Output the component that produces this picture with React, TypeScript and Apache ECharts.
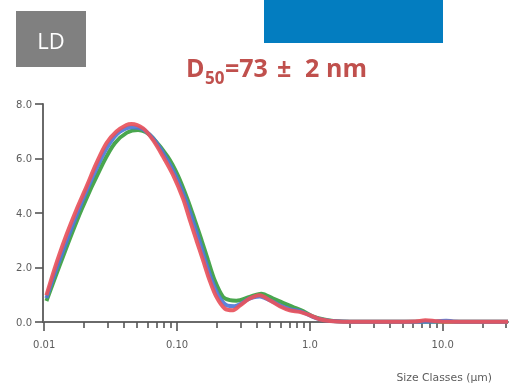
import React, { useEffect, useRef } from "react";
import * as echarts from "echarts";

// Size classes (µm) and volume density (%)
const redData: [number, number][] = [
  [0.0104, 0.98], [0.01235, 2.15], [0.0147, 3.19], [0.01747, 4.11], [0.0208, 4.96],
  [0.0247, 5.82], [0.0294, 6.56], [0.035, 6.99], [0.0416, 7.23], [0.0454, 7.27],
  [0.0555, 7.11], [0.0659, 6.68], [0.0785, 6.07], [0.0933, 5.4], [0.111, 4.53],
  [0.125, 3.74], [0.14, 3.0], [0.157, 2.27], [0.176, 1.53], [0.198, 0.92],
  [0.229, 0.49], [0.264, 0.43], [0.297, 0.6], [0.352, 0.86], [0.419, 0.98],
  [0.498, 0.8], [0.593, 0.58], [0.705, 0.43], [0.838, 0.37], [0.996, 0.25],
  [1.186, 0.1], [1.41, 0.04], [1.8, 0.01], [4, 0.01], [6.2, 0.02],
  [7.4, 0.06], [8.6, 0.04], [10, 0.01], [20, 0.01], [31, 0.01],
];
const blueData: [number, number][] = [
  [0.0104, 0.88], [0.0128, 2.15], [0.0182, 4.11], [0.0258, 5.82], [0.0312, 6.56],
  [0.037, 6.98], [0.0465, 7.15], [0.055, 7.08], [0.0665, 6.72], [0.081, 6.1],
  [0.097, 5.4], [0.116, 4.5], [0.131, 3.74], [0.147, 3.0], [0.163, 2.27],
  [0.183, 1.53], [0.208, 0.92], [0.24, 0.6], [0.27, 0.58], [0.3, 0.66],
  [0.35, 0.86], [0.42, 0.94], [0.5, 0.8], [0.6, 0.6], [0.72, 0.46],
  [0.85, 0.39], [1.0, 0.24], [1.2, 0.1], [1.45, 0.04], [2, 0.01], [5, 0.01],
  [9, 0.02], [10.6, 0.05], [12, 0.02], [15, 0.01], [31, 0.01],
];
const greenData: [number, number][] = [
  [0.0104, 0.77], [0.01324, 2.15], [0.01905, 4.11], [0.0277, 5.82], [0.034, 6.56],
  [0.042, 6.95], [0.0509, 7.05], [0.058, 6.97], [0.066, 6.75], [0.085, 6.07],
  [0.101, 5.4], [0.12, 4.5], [0.136, 3.74], [0.153, 3.0], [0.171, 2.27],
  [0.192, 1.53], [0.222, 0.92], [0.25, 0.8], [0.28, 0.78], [0.352, 0.92],
  [0.43, 1.04], [0.529, 0.86], [0.627, 0.7], [0.748, 0.55], [0.888, 0.4],
  [1.05, 0.21], [1.25, 0.1], [1.5, 0.04], [2, 0.01], [5, 0.01], [31, 0.01],
];

const majorTicks = [0.01, 0.1, 1, 10];
const majorLabels = ["0.01", "0.10", "1.0", "10.0"];
const minorTicks = [
  0.02, 0.03, 0.04, 0.05, 0.06, 0.07, 0.08, 0.09,
  0.2, 0.3, 0.4, 0.5, 0.6, 0.7, 0.8, 0.9,
  2, 3, 4, 5, 6, 7, 8, 9,
  20, 30,
];
const yTicks = ["0.0", "2.0", "4.0", "6.0", "8.0"];

const xMin = 0.0098;
const xMax = 31;
const axisColor = "#6a6a6a";
const labelColor = "#5c5c5c";

export default function App() {
  const ref = useRef<HTMLDivElement>(null);
  useEffect(() => {
    if (!ref.current) return;
    const chart = echarts.init(ref.current, undefined, { renderer: "svg" });
    const mkSeries = (name: string, data: [number, number][], color: string) => ({
      name,
      type: "line",
      xAxisIndex: 0,
      data,
      smooth: 0.3,
      symbol: "none",
      lineStyle: { color, width: 4, opacity: 0.92 },
    });
    chart.setOption({
      animation: false,
      grid: { left: 43, right: 4, top: 104, bottom: 67, containLabel: false },
      xAxis: [
        {
          type: "log",
          min: xMin,
          max: xMax,
          position: "bottom",
          axisLine: { show: true, lineStyle: { color: axisColor, width: 2 } },
          axisTick: {
            show: true,
            customValues: majorTicks,
            length: 9,
            lineStyle: { color: "#555", width: 1.6 },
          },
          axisLabel: {
            customValues: majorTicks,
            formatter: (v: number) => {
              const i = majorTicks.findIndex((t) => Math.abs(t - v) / t < 1e-6);
              return i >= 0 ? majorLabels[i] : "";
            },
            color: labelColor,
            fontSize: 10,
            fontFamily: "DejaVu Sans",
            margin: 17,
          },
          splitLine: { show: false },
        },
        {
          type: "log",
          min: xMin,
          max: xMax,
          position: "bottom",
          axisLine: { show: false },
          axisTick: {
            show: true,
            customValues: minorTicks,
            length: 6,
            lineStyle: { color: "#555", width: 1.6 },
          },
          axisLabel: { show: false },
          splitLine: { show: false },
        },
      ],
      yAxis: {
        type: "value",
        min: 0,
        max: 8,
        interval: 2,
        axisLine: { show: true, lineStyle: { color: axisColor, width: 2 } },
        axisTick: { show: true, length: 8, lineStyle: { color: "#555", width: 1.6 } },
        axisLabel: {
          formatter: (v: number) => yTicks[Math.round(v / 2)] ?? v.toFixed(1),
          color: labelColor,
          fontSize: 10,
          fontFamily: "DejaVu Sans",
          margin: 11,
        },
        splitLine: { show: false },
      },
      series: [
        mkSeries("Run 3", greenData, "#3a9e3f"),
        mkSeries("Run 2", blueData, "#4f78d8"),
        mkSeries("Run 1", redData, "#e8525c"),
      ],
      graphic: [
        { type: "rect", shape: { x: 16, y: 11, width: 70, height: 56 }, style: { fill: "#808080" } },
        {
          type: "text",
          x: 51,
          y: 40,
          style: {
            text: "LD",
            fill: "#ffffff",
            font: '22px "Open Sans"',
            align: "center",
            verticalAlign: "middle",
          },
        },
        { type: "rect", shape: { x: 264, y: 0, width: 179, height: 43 }, style: { fill: "#037dc0" } },
        {
          type: "text",
          x: 186,
          y: 67,
          style: { text: "D", fill: "#c0504d", font: 'bold 25px "Open Sans"', verticalAlign: "middle" },
        },
        {
          type: "text",
          x: 205,
          y: 77,
          style: { text: "50", fill: "#c0504d", font: 'bold 17px "Open Sans"', verticalAlign: "middle" },
        },
        {
          type: "text",
          x: 225,
          y: 67,
          style: { text: "=73", fill: "#c0504d", font: 'bold 25px "Open Sans"', verticalAlign: "middle" },
        },
        {
          type: "text",
          x: 277,
          y: 67,
          style: { text: "±", fill: "#c0504d", font: 'bold 25px "Open Sans"', verticalAlign: "middle" },
        },
        {
          type: "text",
          x: 305,
          y: 67,
          style: { text: "2", fill: "#c0504d", font: 'bold 25px "Open Sans"', verticalAlign: "middle" },
        },
        {
          type: "text",
          x: 326,
          y: 67,
          style: { text: "nm", fill: "#c0504d", font: 'bold 25px "Open Sans"', verticalAlign: "middle" },
        },
        {
          type: "text",
          x: 492,
          y: 377,
          style: {
            text: "Size Classes (μm)",
            fill: labelColor,
            font: '10.8px "DejaVu Sans"',
            align: "right",
            verticalAlign: "middle",
          },
        },
      ],
    });
    return () => chart.dispose();
  }, []);
  return (
    <div
      ref={ref}
      style={{ position: "fixed", left: 0, top: 0, width: 512, height: 389 }}
    />
  );
}
